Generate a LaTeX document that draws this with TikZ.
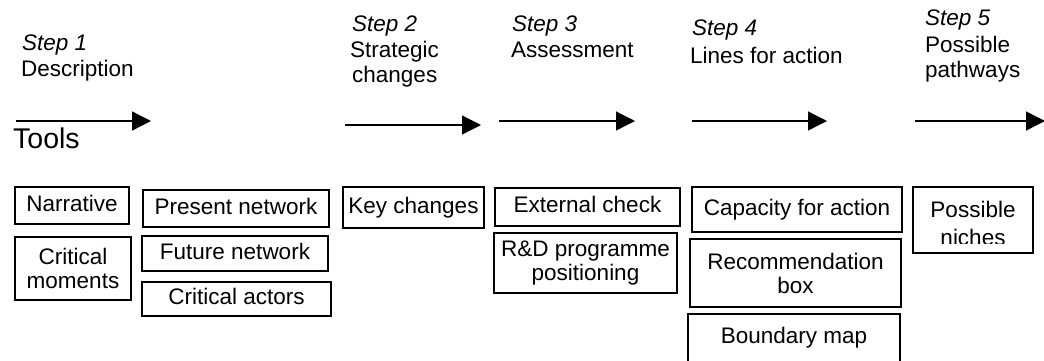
\documentclass[tikz,border=0pt]{standalone}
\usepackage{fontspec}
\setmainfont{Liberation Sans}
\usetikzlibrary{arrows.meta}
\begin{document}
\begin{tikzpicture}[x=1pt,y=-1pt,
  txt/.style={anchor=base west,inner sep=0pt,font=\fontsize{22.5}{25}\selectfont},
  steplbl/.style={txt,font=\fontsize{22.5}{25}\selectfont\itshape},
  box/.style={draw,line width=1.3pt,inner sep=0pt,font=\fontsize{22.5}{24}\selectfont,align=center},
  onebox/.style={box,text height=16pt,text depth=5pt},
  flow/.style={line width=1.3pt,-{Triangle[length=19pt,width=19pt]}}]
\useasboundingbox (0,0) rectangle (1044,360);
% headers
\node[steplbl] (s1) at (22,50) {Step 1};
\node[txt] (t1) at (21,76) {Description};
\node[steplbl] (s2) at (352,31) {Step 2};
\node[txt] (t2a) at (350,57) {Strategic};
\node[txt] (t2b) at (352,82) {changes};
\node[steplbl] (s3) at (512,31) {Step 3};
\node[txt] (t3) at (511,57) {Assessment};
\node[steplbl] (s4) at (692,35) {Step 4};
\node[txt] (t4) at (690,63) {Lines for action};
\node[steplbl] (s5) at (925,25) {Step 5};
\node[txt] (t5a) at (925,52) {Possible};
\node[txt] (t5b) at (925,77) {pathways};
% arrows
\coordinate (a1s) at (16,121); \coordinate (a1e) at (151,121);
\coordinate (a2s) at (345,125); \coordinate (a2e) at (481,125);
\coordinate (a3s) at (499,121); \coordinate (a3e) at (635,121);
\coordinate (a4s) at (692,121); \coordinate (a4e) at (827,121);
\coordinate (a5s) at (915,121); \coordinate (a5e) at (1045,121);
\draw[flow] (a1s) -- (a1e);
\draw[flow] (a2s) -- (a2e);
\draw[flow] (a3s) -- (a3e);
\draw[flow] (a4s) -- (a4e);
\draw[flow] (a5s) -- (a5e);
\node[txt,font=\fontsize{28.5}{32}\selectfont] (tools) at (13,148) {Tools};
% boxes
\node[onebox,minimum width=114pt,minimum height=37pt] (narr) at (72,205.5) {Narrative};
\node[box,minimum width=116pt,minimum height=63pt] (crit) at (73,268.5) {Critical\\moments};
\node[onebox,minimum width=186pt,minimum height=37pt] (pres) at (236,208.5) {Present network};
\node[onebox,minimum width=186pt,minimum height=35pt] (fut) at (235,253.5) {Future network};
\node[onebox,minimum width=189pt,minimum height=34pt] (act) at (236.5,299) {Critical actors};
\node[onebox,minimum width=141pt,minimum height=41pt] (key) at (413.5,207.5) {Key changes};
\node[onebox,minimum width=185pt,minimum height=38pt] (ext) at (587.5,207) {External check};
\node[box,minimum width=183pt,minimum height=60pt] (rd) at (585.5,263) {R\&D programme\\positioning};
\node[onebox,minimum width=210pt,minimum height=45pt] (cap) at (797,209.5) {Capacity for action};
\node[box,minimum width=211pt,minimum height=68pt] (rec) at (795.5,273) {Recommendation\\box};
\node[onebox,minimum width=212pt,minimum height=48pt] (bnd) at (794,338) {Boundary map};
\node[box,minimum width=120pt,minimum height=66pt] (niche) at (973,220) {};
\begin{scope}
\clip (niche.north west) rectangle (1040,243);
\node[txt,anchor=base] (n1) at (973,217) {Possible};
\node[txt,anchor=base] (n2) at (973,245) {niches};
\end{scope}
\end{tikzpicture}
\end{document}
